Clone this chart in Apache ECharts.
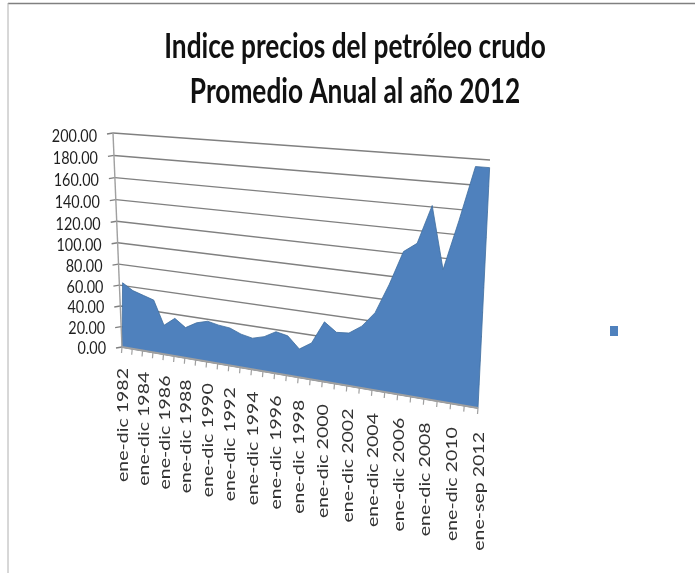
<!DOCTYPE html>
<html>
<head>
<meta charset="utf-8">
<style>
html, body { margin: 0; padding: 0; background: #fff; }
#main { width: 695px; height: 573px; filter: blur(0.5px); }
</style>
<script src="https://cdn.jsdelivr.net/npm/echarts@6/dist/echarts.min.js"></script>
</head>
<body>
<div id="main"></div>
<script>
var years = ['1982','1983','1984','1985','1986','1987','1988','1989','1990','1991','1992','1993','1994','1995','1996','1997',
    '1998','1999','2000','2001','2002','2003','2004','2005','2006','2007','2008','2009','2010','2011','2012'];
var categories = years.map(function (y) { return (y === '2012' ? 'ene-sep ' : 'ene-dic ') + y; });
var priceIndex = [61, 55, 52, 49, 27, 35, 28, 34, 37, 35, 34, 30, 28, 31, 37, 35,
    25, 32, 52, 44.5, 45.5, 53, 66, 91, 120, 128, 160, 109, 150, 194, 194];
var valueTicks = [0, 20, 40, 60, 80, 100, 120, 140, 160, 180, 200];
var titleLines = ['Indice precios del petróleo crudo', 'Promedio Anual al año 2012'];

// esquinas en perspectiva (abajo-izq, abajo-der, arriba-der, arriba-izq)
var wallQuad = [[122, 347], [478, 408], [490, 160], [113, 133]];
// el area va delante de la pared, su lado izquierdo casi no se inclina
var areaQuad = [[122, 347], [478, 408], [490, 160], [124, 133]];

function makeWarp(q) {
    var dx1 = q[1][0] - q[2][0], dx2 = q[3][0] - q[2][0], sx = q[0][0] - q[1][0] + q[2][0] - q[3][0];
    var dy1 = q[1][1] - q[2][1], dy2 = q[3][1] - q[2][1], sy = q[0][1] - q[1][1] + q[2][1] - q[3][1];
    var den = dx1 * dy2 - dx2 * dy1;
    var g = (sx * dy2 - dx2 * sy) / den;
    var h = (dx1 * sy - sx * dy1) / den;
    var a = q[1][0] - q[0][0] + g * q[1][0], b = q[3][0] - q[0][0] + h * q[3][0], c = q[0][0];
    var d = q[1][1] - q[0][1] + g * q[1][1], e = q[3][1] - q[0][1] + h * q[3][1], f = q[0][1];
    return function (u, v) {
        var w = g * u + h * v + 1;
        return [(a * u + b * v + c) / w, (d * u + e * v + f) / w];
    };
}
var wallWarp = makeWarp(wallQuad);
var areaWarp = makeWarp(areaQuad);

// pasa un punto de datos por las escalas del eje y luego por la perspectiva
function project(params, api, warp, cat, val) {
    var p = api.coord([cat, val]);
    var r = params.coordSys;
    return warp((p[0] - r.x) / r.width, (r.y + r.height - p[1]) / r.height);
}

var gridColor = '#808080';
var axisColor = '#a0a0a0';
var areaColor = '#4f81bd';
var last = categories.length - 1;

function renderGrid(params, api) {
    var val = api.value(1);
    var p0 = project(params, api, wallWarp, 0, val);
    var p1 = project(params, api, wallWarp, last, val);
    return {
        type: 'group',
        children: [
            { type: 'line', shape: { x1: p0[0] - 6, y1: p0[1] + 1, x2: p0[0], y2: p0[1] }, style: { stroke: gridColor, lineWidth: 1.4 } },
            { type: 'line', shape: { x1: p0[0], y1: p0[1], x2: p1[0], y2: p1[1] }, style: { stroke: gridColor, lineWidth: 1.4 } },
            {
                type: 'text',
                x: p0[0] - 16,
                y: p0[1] + 1 + 2.5 * val / 200,
                scaleX: 0.8,
                style: {
                    x: 0, y: 0,
                    text: val.toFixed(2),
                    align: 'right', verticalAlign: 'middle',
                    font: '18px Lato, sans-serif',
                    fill: '#1f1f1f'
                }
            }
        ]
    };
}

function renderArea(params, api) {
    if (params.dataIndex !== 0) {
        return null;
    }
    var pts = priceIndex.map(function (v, i) { return project(params, api, areaWarp, i, v); });
    pts.push(project(params, api, areaWarp, last, 0));
    pts.push(project(params, api, areaWarp, 0, 0));
    return {
        type: 'polygon',
        shape: { points: pts },
        style: { fill: areaColor, stroke: '#3f6d9e', lineWidth: 0.8 }
    };
}

function renderCatAxis(params, api) {
    var i = api.value(0);
    var p = project(params, api, wallWarp, i, 0);
    var children = [
        { type: 'line', shape: { x1: p[0], y1: p[1], x2: p[0] - 0.5, y2: p[1] + 6 }, style: { stroke: axisColor, lineWidth: 1.2 } }
    ];
    if (i % 2 === 0) {
        children.push({
            type: 'text',
            x: p[0] + 1,
            y: p[1] + 21 + 3 * i / last,
            rotation: Math.PI / 2,
            scaleX: 1.22,
            style: {
                x: 0, y: 0,
                text: categories[i],
                align: 'right', verticalAlign: 'middle',
                font: '16px Lato, sans-serif',
                fill: '#333333'
            }
        });
    }
    if (i === 0) {
        var pb = project(params, api, wallWarp, last, 0);
        var pt = project(params, api, wallWarp, 0, 200);
        children.push({ type: 'line', shape: { x1: p[0], y1: p[1], x2: pb[0], y2: pb[1] }, style: { stroke: axisColor, lineWidth: 1.8 } });
        children.push({ type: 'line', shape: { x1: p[0], y1: p[1], x2: pt[0], y2: pt[1] }, style: { stroke: axisColor, lineWidth: 1.4 } });
    }
    return { type: 'group', children: children };
}

var chart = echarts.init(document.getElementById('main'), null, { renderer: 'canvas' });
chart.setOption({
    animation: false,
    grid: { left: 120, right: 200, top: 130, bottom: 160 },
    xAxis: { type: 'category', data: categories, boundaryGap: false, show: false },
    yAxis: { type: 'value', min: 0, max: 200, interval: 20, show: false },
    graphic: [
        { type: 'line', silent: true, shape: { x1: 8, y1: 3.5, x2: 695, y2: 3.5 }, style: { stroke: '#808080', lineWidth: 1.5 } },
        { type: 'line', silent: true, shape: { x1: 8, y1: 3, x2: 8, y2: 573 }, style: { stroke: '#b0b0b0', lineWidth: 1 } },
        { type: 'rect', silent: true, shape: { x: 610, y: 326, width: 8, height: 10 }, style: { fill: areaColor } },
        {
            type: 'text', silent: true, x: 355, y: 47, scaleX: 0.75,
            style: { x: 0, y: 0, text: titleLines[0], align: 'center', verticalAlign: 'middle', font: 'bold 35px Lato, sans-serif', fill: '#111111' }
        },
        {
            type: 'text', silent: true, x: 355, y: 92, scaleX: 0.75,
            style: { x: 0, y: 0, text: titleLines[1], align: 'center', verticalAlign: 'middle', font: 'bold 35px Lato, sans-serif', fill: '#111111' }
        }
    ],
    series: [
        {
            type: 'custom', name: 'grid', clip: false, silent: true,
            renderItem: renderGrid,
            data: valueTicks.map(function (v) { return [0, v]; }),
            encode: { x: 0, y: 1 }
        },
        {
            type: 'custom', name: 'Indice', clip: false, silent: true,
            renderItem: renderArea,
            data: priceIndex.map(function (v, i) { return [i, v]; }),
            encode: { x: 0, y: 1 }
        },
        {
            type: 'custom', name: 'categorias', clip: false, silent: true,
            renderItem: renderCatAxis,
            data: categories.map(function (c, i) { return [i, 0]; }),
            encode: { x: 0, y: 1 }
        }
    ]
});
</script>
</body>
</html>
